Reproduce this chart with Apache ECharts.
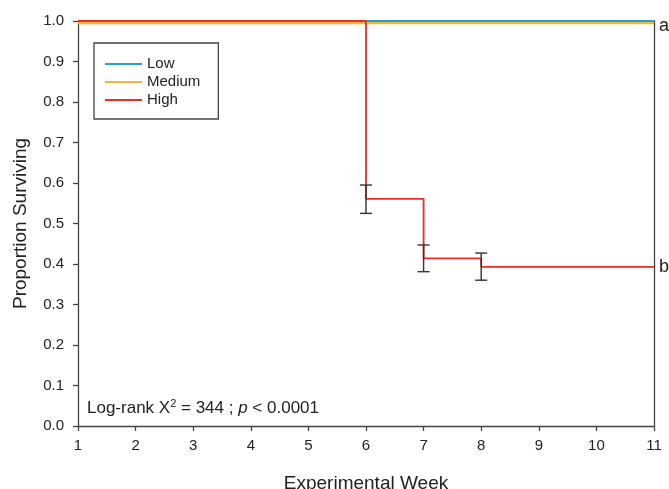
<!DOCTYPE html>
<html>
<head>
<meta charset="utf-8">
<script src="https://cdn.jsdelivr.net/npm/echarts@6/dist/echarts.min.js"></script>
<style>html,body{margin:0;padding:0;background:#fff}#c{width:669px;height:489px}</style>
</head>
<body>
<div id="c"></div>
<script>
var groups = ['Low', 'Medium', 'High'];
var lowWeeks = [1, 11];
var lowValues = [1.0, 1.0];
var mediumWeeks = [1, 11];
var mediumValues = [0.995, 0.995];
var highWeeks = [1, 6, 7, 8, 11];
var highValues = [1.0, 0.561, 0.414, 0.393, 0.393];
var errWeeks = [6, 7, 8];
var errLow = [0.525, 0.381, 0.360];
var errHigh = [0.595, 0.447, 0.427];
var groupLetters = ['a', 'b'];

var FONT = '"Liberation Sans", Arial, sans-serif';
var colors = ['#22a3cc', '#f2b53a', '#ee2b2b'];

function pairs(xs, ys) { return xs.map(function (x, i) { return [x, ys[i]]; }); }

var chart = echarts.init(document.getElementById('c'), null, {renderer: 'canvas'});
chart.setOption({
  animation: false,
  textStyle: {fontFamily: FONT},
  grid: {left: 78, right: 15, top: 21, bottom: 63, containLabel: false, outerBoundsMode: 'none'},
  legend: {
    orient: 'vertical',
    left: 94, top: 43,
    data: groups,
    icon: 'rect',
    itemWidth: 37, itemHeight: 2,
    itemGap: 2,
    itemTextGap: 9,
    padding: [13, 18, 11, 11],
    borderColor: '#444', borderWidth: 1.3,
    textStyle: {fontFamily: FONT, fontSize: 15, color: '#222', lineHeight: 16}
  },
  xAxis: {
    type: 'value', min: 1, max: 11, interval: 1,
    name: 'Experimental Week', nameLocation: 'middle', nameGap: 48,
    nameTextStyle: {fontFamily: FONT, fontSize: 19, color: '#222'},
    axisLine: {show: true, onZero: false, lineStyle: {color: '#444', width: 1.3}},
    axisTick: {show: true, length: 5, lineStyle: {color: '#444', width: 1.3}},
    axisLabel: {fontFamily: FONT, fontSize: 15, color: '#222', margin: 12},
    splitLine: {show: false}
  },
  yAxis: [{
    type: 'value', min: 0, max: 1, interval: 0.1,
    name: 'Proportion Surviving', nameLocation: 'middle', nameGap: 48,
    nameTextStyle: {fontFamily: FONT, fontSize: 19, color: '#222'},
    axisLine: {show: true, lineStyle: {color: '#444', width: 1.3}},
    axisTick: {show: true, length: 5, lineStyle: {color: '#444', width: 1.3}},
    axisLabel: {fontFamily: FONT, fontSize: 15, color: '#222', margin: 14,
      formatter: function (v) { return v.toFixed(1); }},
    splitLine: {show: false}
  }, {
    type: 'value', min: 0, max: 1, interval: 0.1, position: 'right',
    axisLine: {show: true, lineStyle: {color: '#444', width: 1.3}},
    axisTick: {show: false}, axisLabel: {show: false}, splitLine: {show: false}
  }],
  graphic: [{
    type: 'text', left: 87, top: 398,
    style: {
      text: '{a|Log-rank X}{s|2}{a| = 344 ; }{i|p}{a| < 0.0001}',
      rich: {
        a: {fontFamily: FONT, fontSize: 17, fill: '#222', verticalAlign: 'bottom', lineHeight: 19},
        s: {fontFamily: FONT, fontSize: 11, fill: '#222', verticalAlign: 'top', lineHeight: 19, padding: [0, 0, 8, 0]},
        i: {fontFamily: FONT, fontSize: 17, fontStyle: 'italic', fill: '#222', verticalAlign: 'bottom', lineHeight: 19}
      }
    }
  }],
  series: [{
    name: groups[0], type: 'line', data: pairs(lowWeeks, lowValues),
    symbol: 'none', clip: false, z: 2,
    lineStyle: {color: colors[0], width: 2.2}, itemStyle: {color: colors[0]},
    endLabel: {show: true, formatter: groupLetters[0], fontFamily: FONT, fontSize: 18, color: '#222', distance: 5, offset: [0, 5]}
  }, {
    name: groups[1], type: 'line', data: pairs(mediumWeeks, mediumValues),
    symbol: 'none', clip: false, z: 2,
    lineStyle: {color: colors[1], width: 2.2}, itemStyle: {color: colors[1]}
  }, {
    name: groups[2], type: 'line', data: pairs(highWeeks, highValues), step: 'end',
    symbol: 'none', clip: false, z: 4,
    lineStyle: {color: colors[2], width: 1.8}, itemStyle: {color: colors[2]},
    endLabel: {show: true, formatter: groupLetters[1], fontFamily: FONT, fontSize: 18, color: '#222', distance: 5}
  }, {
    type: 'custom', z: 5,
    data: errWeeks.map(function (w, i) { return [w, errLow[i], errHigh[i]]; }),
    renderItem: function (params, api) {
      var lo = api.coord([api.value(0), api.value(1)]);
      var hi = api.coord([api.value(0), api.value(2)]);
      var hw = 6;
      var st = {stroke: '#333', lineWidth: 1.4};
      return {type: 'group', children: [
        {type: 'line', shape: {x1: lo[0], y1: lo[1], x2: hi[0], y2: hi[1]}, style: st},
        {type: 'line', shape: {x1: lo[0] - hw, y1: lo[1], x2: lo[0] + hw, y2: lo[1]}, style: st},
        {type: 'line', shape: {x1: hi[0] - hw, y1: hi[1], x2: hi[0] + hw, y2: hi[1]}, style: st}
      ]};
    }
  }]
});
</script>
</body>
</html>
